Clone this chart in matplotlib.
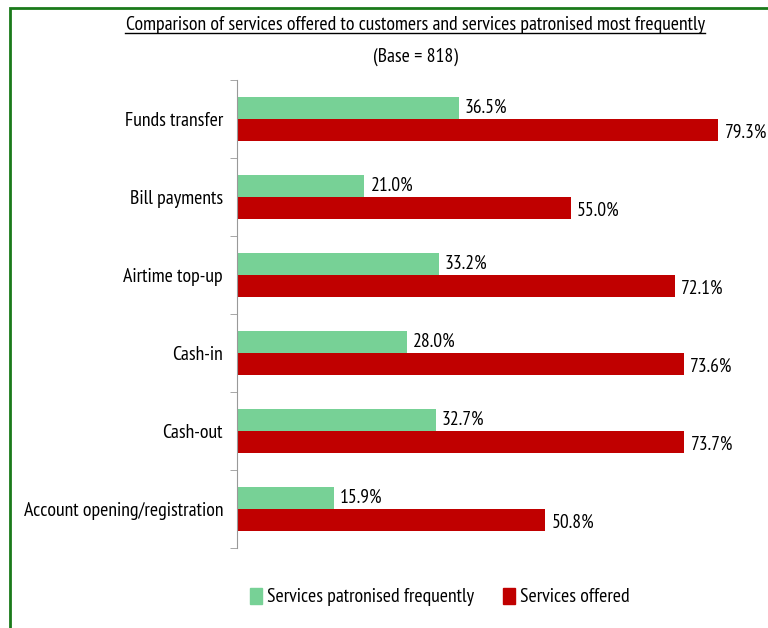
import matplotlib.pyplot as plt
from matplotlib.patches import Rectangle, Patch
from matplotlib.lines import Line2D
import numpy as np

plt.rcParams['font.family'] = ['PT Sans Narrow', 'Carlito', 'DejaVu Sans']

# data
services = ['Funds transfer', 'Bill payments', 'Airtime top-up', 'Cash-in',
            'Cash-out', 'Account opening/registration']
patronised = [36.5, 21.0, 33.2, 28.0, 32.7, 15.9]
offered = [79.3, 55.0, 72.1, 73.6, 73.7, 50.8]

green = '#77d196'
red = '#c00000'

fig = plt.figure(figsize=(7.68, 6.28), dpi=100)
W, H = 768, 628
ax = fig.add_axes([237 / W, 1 - 548 / H, (753 - 237) / W, 468 / H])

y = np.arange(len(services))
h = 0.28
ax.barh(y - h / 2, patronised, height=h, color=green, label='Services patronised frequently')
ax.barh(y + h / 2, offered, height=h, color=red, label='Services offered')

for yi, v in zip(y, patronised):
    ax.text(v + 1.0, yi - h / 2, f'{v:.1f}%', va='center', ha='left', fontsize=14, color='black')
for yi, v in zip(y, offered):
    ax.text(v + 1.0, yi + h / 2 + 0.03, f'{v:.1f}%', va='center', ha='left', fontsize=14, color='black')

ax.set_xlim(0, 85)
ax.set_ylim(len(services) - 0.5, -0.5)
ax.set_yticks(y)
ax.set_yticklabels(services, fontsize=14.3)
ax.tick_params(axis='y', which='major', length=0, pad=10)
ax.set_yticks(np.arange(-0.5, len(services)), minor=True)
ax.tick_params(axis='y', which='minor', length=5, color='#999999')
ax.set_xticks([])
for s in ['top', 'right', 'bottom']:
    ax.spines[s].set_visible(False)
ax.spines['left'].set_color('#999999')

# title with underline
t = fig.text(415 / W, 1 - 25 / H, 'Comparison of services offered to customers and services patronised most frequently',
             ha='center', va='center', fontsize=14.2)
fig.text(415 / W, 1 - 57 / H, '(Base = 818)', ha='center', va='center', fontsize=14.2)
fig.canvas.draw()
bb = t.get_window_extent().transformed(fig.transFigure.inverted())
fig.add_artist(Line2D([bb.x0, bb.x1], [bb.y0 + 0.001, bb.y0 + 0.001], color='black', lw=1,
                      transform=fig.transFigure))

handles = [Patch(color=green), Patch(color=red)]
fig.legend(handles, ['Services patronised frequently', 'Services offered'],
           loc='center', bbox_to_anchor=(440 / W, 1 - 597 / H), ncol=2, frameon=False,
           fontsize=14.2, handlelength=0.6, handleheight=0.9, handletextpad=0.25, columnspacing=1.5)

# green frame
fig.add_artist(Rectangle((10 / W, -0.02), 1.0, 1 - 8 / H + 0.02, transform=fig.transFigure,
                         fill=False, edgecolor='#1a7a1a', lw=2))

fig.savefig('out.png', dpi=100)
